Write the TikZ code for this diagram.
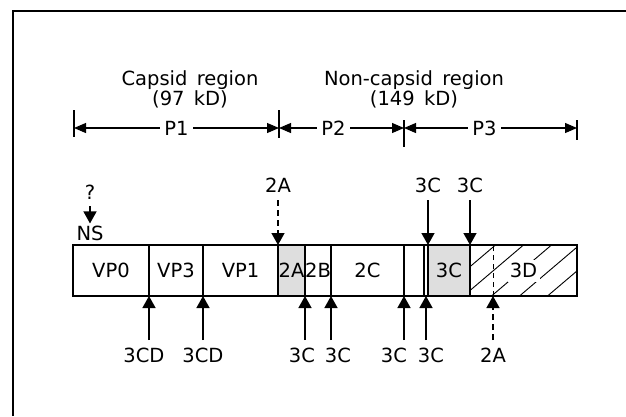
\documentclass[tikz,border=0pt]{standalone}
\usepackage{fontspec}
\setmainfont{DejaVu Sans}[WordSpace=1.5]
\usetikzlibrary{arrows.meta, calc, positioning}

\begin{document}
\begin{tikzpicture}[
    x=1pt, y=-1pt,
    >={Triangle[length=12pt, width=13pt]},
    node distance = 0pt,
    every node/.style={font=\fontsize{19.5}{20}\selectfont},
    seg/.style   ={draw, line width=1.4pt, minimum height=51pt,
                   inner sep=0pt, outer sep=0pt, anchor=west},
    stipple/.style={seg, fill=black!13},
    hatched/.style={seg, path picture={
        \foreach \k in {-116,-88,...,60}
          \draw[line width=0.9pt]
            ([xshift=\k pt]path picture bounding box.south) -- ++(60pt,51pt);
        \fill[white] ([xshift=-16pt, yshift=-11pt]path picture bounding box.center)
            rectangle ++(32pt,22pt);}},
    lbl/.style   ={inner sep=2pt},
    cut/.style   ={->, line width=1.4pt, shorten <=5pt},
    cutdash/.style={cut, dash pattern=on 6pt off 4pt},
    dim/.style   ={{Triangle[length=12pt, width=10pt]}-{Triangle[length=12pt, width=10pt]},
                   line width=1.1pt},
    tick/.style  ={line width=1.4pt},
    plab/.style  ={fill=white, inner sep=4pt},
    head/.style  ={align=center},
]
\useasboundingbox (0,0) rectangle (626,416);
\draw[line width=1.5pt] (13,416) -- (13,11) -- (626,11);

% region headings
\node[head] (capsid)  at (190,89) {Capsid region\\(97 kD)};
\node[head] (ncapsid) at (414,89) {Non-capsid region\\(149 kD)};

% polyprotein bar
\node[seg, minimum width=76pt] (vp0) at (73,270.5) {VP0};
\node[seg, minimum width=54pt, right=of vp0]   (vp3) {VP3};
\node[seg, minimum width=75pt, right=of vp3]   (vp1) {VP1};
\node[stipple, minimum width=27pt, right=of vp1] (s2a) {2A};
\node[seg, minimum width=26pt, right=of s2a]   (s2b) {2B};
\node[seg, minimum width=73pt, right=of s2b]   (s2c) {2C};
\node[seg, minimum width=20pt, right=of s2c]   (s3a) {};
\node[seg, minimum width=4pt,  right=of s3a]   (s3b) {};
\node[stipple, minimum width=42pt, right=of s3b] (s3c) {3C};
\node[hatched, minimum width=107pt, right=of s3c] (s3d) {3D};
\coordinate (cut2a) at (493,296);
\draw[line width=0.9pt, dash pattern=on 5pt off 4pt] (cut2a) -- (cut2a |- s3d.north);

% P1 / P2 / P3 extents
\coordinate (p0) at (74,128);
\coordinate (p1) at (279,128);
\coordinate (p2) at (404,128);
\coordinate (p3) at (577,128);
\draw[tick] ([yshift=18pt]p0) -- ([yshift=-9pt]p0);
\draw[tick] ([yshift=18pt]p1) -- ([yshift=-10pt]p1);
\draw[tick] ([yshift=8pt]p2) -- ([yshift=-19pt]p2);
\draw[tick] ([yshift=8pt]p3) -- ([yshift=-12pt]p3);
\draw[dim] (p0) -- node[plab]{P1} (p1);
\draw[dim] (p1) -- node[plab, xshift=-8pt]{P2} (p2);
\draw[dim] (p2) -- node[plab, xshift=-6pt]{P3} (p3);

% cleavage sites above the bar
\node[lbl] (ns) at (90,233) {NS};
\node[lbl, above=22pt of ns] (q) {?};
\draw[cutdash] (q) -- (ns);
\node[lbl, above=50pt of s2a.north west] (t2a) {2A};
\node[lbl, above=50pt of s3c.north west] (t3c1) {3C};
\node[lbl, above=50pt of s3d.north west] (t3c2) {3C};
\draw[cutdash] (t2a)  -- (s2a.north west);
\draw[cut]     (t3c1) -- (s3c.north west);
\draw[cut]     (t3c2) -- (s3d.north west);

% cleavage sites below the bar
\coordinate (k1) at ([yshift=-44pt]vp3.south west);
\coordinate (k2) at ([yshift=-44pt]vp1.south west);
\coordinate (k3) at ([yshift=-44pt]s2b.south west);
\coordinate (k4) at ([yshift=-44pt]s2c.south west);
\coordinate (k5) at ([yshift=-44pt]s3a.south west);
\coordinate (k6) at ([yshift=-44pt]s3b.south);
\coordinate (k7) at ([yshift=-44pt]cut2a);
\node[lbl, below=6pt of k1, xshift=-5pt] (b1) {3CD};
\node[lbl, below=6pt of k2]              (b2) {3CD};
\node[lbl, below=6pt of k3, xshift=-3pt] (b3) {3C};
\node[lbl, below=6pt of k4, xshift=7pt]  (b4) {3C};
\node[lbl, below=6pt of k5, xshift=-10pt] (b5) {3C};
\node[lbl, below=6pt of k6, xshift=5pt]  (b6) {3C};
\node[lbl, below=6pt of k7]              (b7) {2A};
\foreach \k/\s in {k1/vp3.south west, k2/vp1.south west, k3/s2b.south west,
                   k4/s2c.south west, k5/s3a.south west, k6/s3b.south}
  \draw[cut, shorten <=0pt] (\k) -- (\s);
\draw[cutdash, shorten <=0pt] (k7) -- (cut2a);
\end{tikzpicture}
\end{document}
